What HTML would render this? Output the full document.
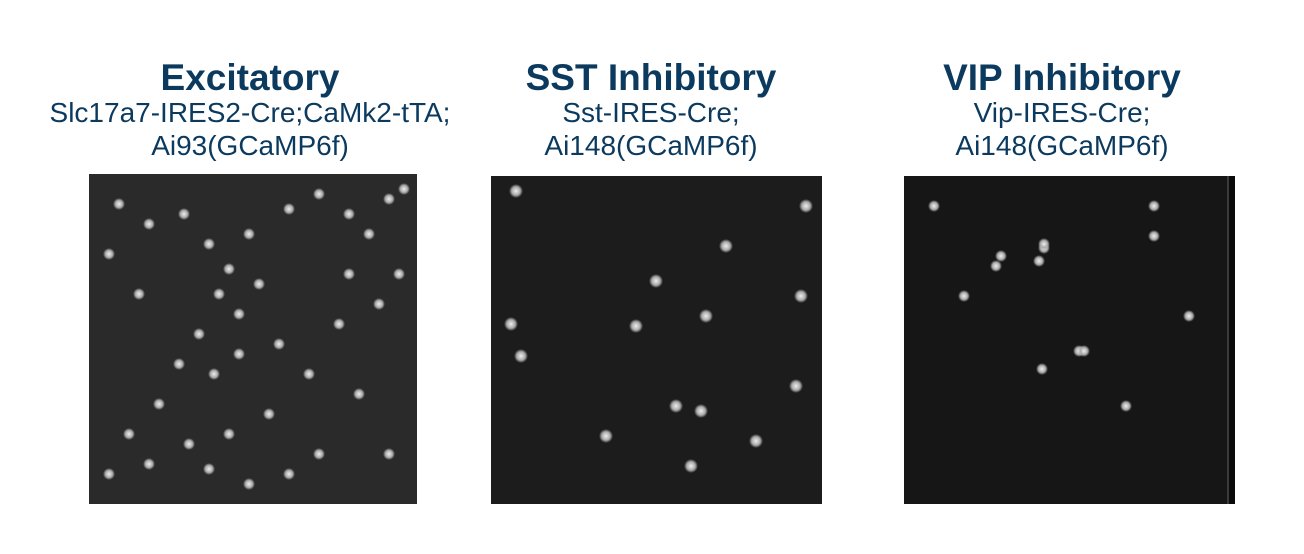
<!DOCTYPE html>
<html><head><meta charset="utf-8"><style>
body{margin:0;width:1304px;height:554px;background:#fff;overflow:hidden;font-family:"Liberation Sans",sans-serif;position:relative}
.t{position:absolute;text-align:center;color:#0b3a5e;width:500px}
.h{font-weight:bold;font-size:37px;line-height:36px}
.s{font-size:28px;line-height:33px;color:#0b3a5e}
svg{position:absolute}
</style></head><body>
<div class="t" style="left:0px;top:60px"><div class="h">Excitatory</div><div class="s">Slc17a7-IRES2-Cre;CaMk2-tTA;<br>Ai93(GCaMP6f)</div></div>
<div class="t" style="left:401px;top:60px"><div class="h">SST Inhibitory</div><div class="s">Sst-IRES-Cre;<br>Ai148(GCaMP6f)</div></div>
<div class="t" style="left:812px;top:60px"><div class="h">VIP Inhibitory</div><div class="s">Vip-IRES-Cre;<br>Ai148(GCaMP6f)</div></div>
<svg id="p1" style="left:89px;top:174px" width="328" height="330"></svg>
<svg id="p2" style="left:491px;top:176px" width="331" height="328"></svg>
<svg id="p3" style="left:904px;top:176px" width="331" height="328"></svg>
<script>
const cells1=[[30,30],[60,50],[95,40],[120,70],[140,95],[160,60],[200,35],[230,20],[260,40],[280,60],[300,25],[315,15],[130,120],[150,140],[170,110],[110,160],[90,190],[125,200],[150,180],[70,230],[40,260],[20,300],[60,290],[100,270],[140,260],[180,240],[220,200],[250,150],[290,130],[310,100],[270,220],[230,280],[200,300],[160,310],[120,295],[300,280],[50,120],[20,80],[260,100],[190,170]];
const cells2=[[25,15],[315,30],[235,70],[165,105],[20,148],[145,150],[215,140],[310,120],[30,180],[210,235],[115,260],[185,230],[200,290],[265,265],[305,210]];
const cells3=[[30,30],[140,72],[140,68],[97,80],[92,90],[135,85],[250,60],[285,140],[175,175],[138,193],[222,230],[180,175],[60,120],[250,30]];
function draw(id,cells,bg,r,edge){
 const s=document.getElementById(id),W=+s.getAttribute('width'),H=+s.getAttribute('height');
 let h=`<defs><radialGradient id="g${id}"><stop offset="0" stop-color="#eee"/><stop offset="0.6" stop-color="#aaa"/><stop offset="1" stop-color="#aaa" stop-opacity="0"/></radialGradient></defs><rect width="${W}" height="${H}" fill="${bg}"/>`;
 if(edge) h+=`<rect x="${W-8}" width="8" height="${H}" fill="#3a3a3a"/><rect x="${W-6}" width="6" height="${H}" fill="#0a0a0a"/>`;
 cells.forEach(c=>{h+=`<circle cx="${c[0]}" cy="${c[1]}" r="${r}" fill="url(#g${id})"/>`;});
 s.innerHTML=h;
 s.querySelectorAll('circle').forEach(e=>{});
}
draw('p1',cells1,'#2a2a2a',6,false);
draw('p2',cells2,'#1c1c1c',7,false);
draw('p3',cells3,'#161616',6,true);
</script>
</body></html>
